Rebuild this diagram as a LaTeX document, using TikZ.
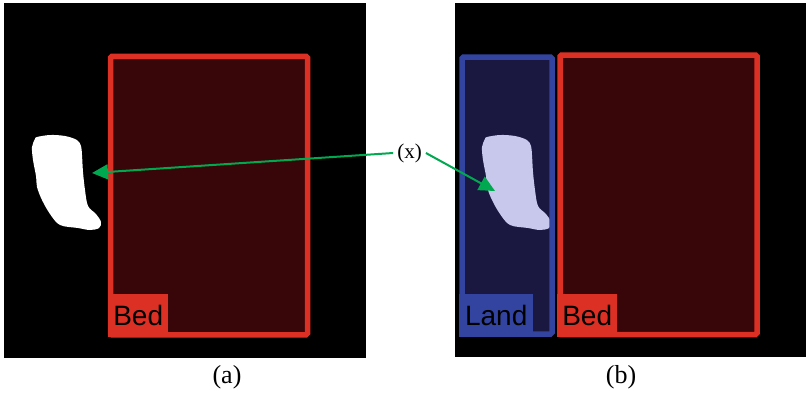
\documentclass[tikz,border=0pt]{standalone}
\usepackage{fontspec}
\setmainfont{Liberation Serif}
\newfontfamily\labsans{Liberation Sans}
\usetikzlibrary{arrows.meta}
\definecolor{bedred}{RGB}{220,48,36}
\definecolor{bedfill}{RGB}{56,5,8}
\definecolor{landblue}{RGB}{50,68,160}
\definecolor{landfill}{RGB}{26,24,64}
\definecolor{blobpale}{RGB}{200,200,236}
\definecolor{arrgreen}{RGB}{0,168,80}
\tikzset{
  panel/.style={fill=black},
  bedbox/.style={draw=bedred, fill=bedfill, line width=5.5pt, rounded corners=1.5pt},
  landbox/.style={draw=landblue, fill=landfill, line width=5.5pt, rounded corners=1.5pt},
  tagbox/.style={anchor=south west, inner sep=0pt, minimum height=43pt, text depth=0pt,
    font=\labsans\fontsize{28}{30}\selectfont, text=black},
  caption/.style={font=\fontsize{26}{28}\selectfont, anchor=base},
  pointer/.style={draw=arrgreen, line width=2pt, -{Triangle[length=16pt,width=15pt]}},
}
\begin{document}
\begin{tikzpicture}[x=1pt,y=-1pt]
\useasboundingbox[fill=white] (0,0) rectangle (806,392);
% panels
\fill[panel] (4,3) rectangle (366,358);
\fill[panel] (455,3) rectangle (806,357);
% panel (a)
\draw[bedbox] (110.5,56.3) rectangle (307.5,334.8);
\node[tagbox, fill=bedred, minimum width=60pt] (beda) at (108,337.5) {Bed};
\fill[white] plot[smooth cycle, tension=0.55] coordinates {
 (37,137) (50,135) (65,136) (77,140) (81,146) (82,155) (83,172) (85,190)
 (88,206) (96,214) (101,222) (99,228) (90,230) (78,228) (60,225) (50,214)
 (42,200) (37,187) (36,176) (33,160) (32,147) (35,139)};
% panel (b)
\fill[landfill] (462,57) rectangle (552,334);
\begin{scope}[xshift=450pt]
\fill[blobpale] plot[smooth cycle, tension=0.55] coordinates {
 (37,137) (50,135) (65,136) (77,140) (81,146) (82,155) (83,172) (85,190)
 (88,206) (96,214) (101,222) (99,228) (90,230) (78,228) (60,225) (50,214)
 (42,200) (37,187) (36,176) (33,160) (32,147) (35,139)};
\end{scope}
\draw[landbox, fill=none] (462,57) rectangle (552,334);
\node[tagbox, fill=landblue, minimum width=74pt] (landb) at (459,337.5) {Land};
\draw[bedbox] (560,55) rectangle (757,334.5);
\node[tagbox, fill=bedred, minimum width=60pt] (bedb) at (557,337.5) {Bed};
% pointer label and arrows
\node[font=\fontsize{21}{23}\selectfont, inner sep=4pt] (xlab) at (409.5,153) {(x)};
\coordinate (tipa) at (92,173);
\coordinate (tipb) at (495,191);
\draw[pointer] (xlab.west) -- (tipa);
\draw[pointer] (xlab.east) -- (tipb);
% captions
\node[caption] (capa) at (227,383) {(a)};
\node[caption] (capb) at (621,383) {(b)};
\end{tikzpicture}
\end{document}
